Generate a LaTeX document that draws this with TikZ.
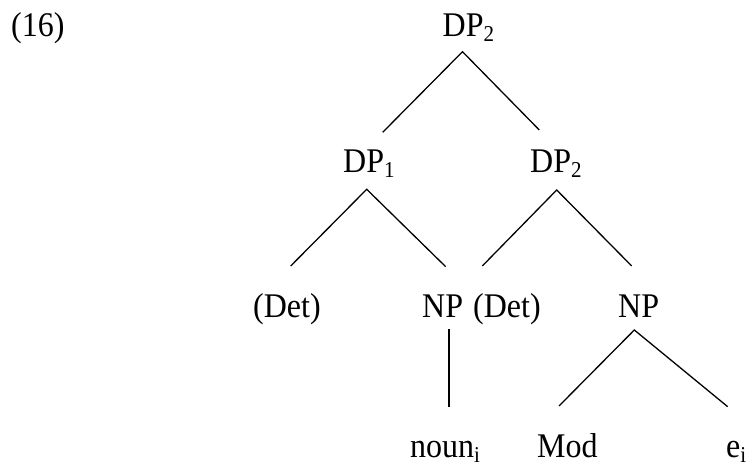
\documentclass[tikz,border=0pt]{standalone}
\usepackage{fontspec}
\setmainfont{Liberation Serif}
\newcommand\lsub[1]{\raisebox{-4.5pt}{\fontsize{21}{21}\selectfont #1}}
\newcommand\lab[1]{\scalebox{1}[1.08]{#1}}
\begin{document}
\begin{tikzpicture}[x=1pt,y=1pt,
  lbl/.style={inner sep=0pt, anchor=base west, font=\fontsize{32}{36}\selectfont},
  edge/.style={line width=1.3pt}]
\useasboundingbox (0,0) rectangle (752,466);
% labels
\node[lbl] (ex)    at (11,429.3)   {\lab{(16)}};
\node[lbl] (root)  at (442.5,429.3) {\lab{DP\lsub{2}}};
\node[lbl] (dp1)   at (343,293.3)  {\lab{DP\lsub{1}}};
\node[lbl] (dp2)   at (530,293.3)  {\lab{DP\lsub{2}}};
\node[lbl] (det1)  at (253,148)    {\lab{(Det)}};
\node[lbl] (np1)   at (422,148)    {\lab{NP}};
\node[lbl] (det2)  at (473,148)    {\lab{(Det)}};
\node[lbl] (np2)   at (618,148)    {\lab{NP}};
\node[lbl] (noun)  at (410,8.5)    {\lab{noun\lsub{i}}};
\node[lbl] (mod)   at (537,8.5)    {\lab{Mod}};
\node[lbl] (ei)    at (726,8.5)    {\lab{e\lsub{i}}};
% branch points
\coordinate (root-b) at (462.5,414.3);
\coordinate (dp1-t)  at (382.7,333.7);
\coordinate (dp2-t)  at (539.3,336);
\coordinate (dp1-b)  at (366.7,276.7);
\coordinate (det1-t) at (290.7,200);
\coordinate (np1-t)  at (445.7,199.3);
\coordinate (dp2-b)  at (556.7,276);
\coordinate (det2-t) at (482.3,200);
\coordinate (np2-t)  at (631.7,200);
\coordinate (np1-b)  at (449,136.7);
\coordinate (noun-t) at (449,59.3);
\coordinate (np2-b)  at (634.3,136);
\coordinate (mod-t)  at (559,60);
\coordinate (ei-t)   at (727.7,59.3);
% connectors
\draw[edge] (dp1-t) -- (root-b) -- (dp2-t);
\draw[edge] (det1-t) -- (dp1-b) -- (np1-t);
\draw[edge] (det2-t) -- (dp2-b) -- (np2-t);
\draw[edge] (np1-b) -- (noun-t);
\draw[edge] (mod-t) -- (np2-b) -- (ei-t);
\end{tikzpicture}
\end{document}
